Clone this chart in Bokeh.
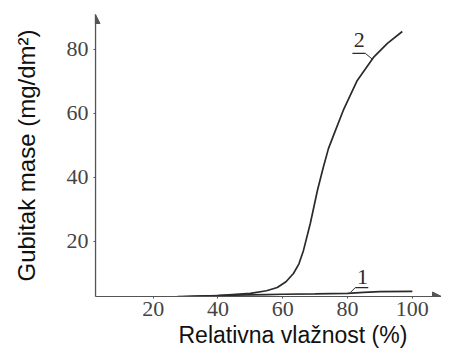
from bokeh.plotting import figure
from bokeh.models import FixedTicker, Range1d, Arrow, NormalHead, Title
from bokeh.embed import file_html
from bokeh.resources import INLINE
from bokeh.core.properties import value

# data
humidity_2 = [27.5, 40, 50, 55, 58.3, 61, 63.3, 65, 66.4, 68.5, 70.7, 72.5, 74.1, 76, 78.7, 83, 88, 92.3, 96.9]
mass_loss_2 = [2.8, 3.1, 3.75, 4.6, 5.6, 7.4, 10, 13, 17.2, 25.6, 35.9, 43.1, 49, 54, 61, 70.3, 77.5, 81.9, 85.6]
humidity_1 = [27.5, 35, 45, 55, 60, 70, 80, 85, 90, 100]
mass_loss_1 = [2.6, 2.9, 3.2, 3.4, 3.5, 3.6, 3.8, 4.1, 4.3, 4.4]
x_ticks = [20, 40, 60, 80, 100]
y_ticks = [20, 40, 60, 80]
curve_labels = ["1", "2"]
label_x = [84.6, 83.6]
label_y = [8.75, 82.8]
underline_x0 = [82.4, 81.5]
underline_x1 = [86.4, 85.5]
underline_y = [5.6, 78.75]
leader_x1 = [80.9, 87.7]
leader_y1 = [4.06, 76.9]
leader_x0 = [82.4, 85.5]
x_title = "Relativna vlažnost (%)"
y_title = "Gubitak mase (mg/dm²)"

x_lo, x_hi = 2.2, 109.0
y_lo, y_hi = 2.8, 90.9

ink = "#2a2a2a"
axis_col = "#555555"

p = figure(width=441, height=348, output_backend="svg", toolbar_location=None,
           x_range=Range1d(x_lo, x_hi), y_range=Range1d(y_lo, y_hi),
           min_border_left=95, min_border_right=0, min_border_top=14, min_border_bottom=0)
p.outline_line_color = None
p.grid.visible = False
p.background_fill_color = "white"

p.xaxis.ticker = FixedTicker(ticks=x_ticks)
p.yaxis.ticker = FixedTicker(ticks=y_ticks)
for ax in (p.xaxis, p.yaxis):
    ax.axis_line_color = axis_col
    ax.axis_line_width = 1.2
    ax.major_tick_line_color = axis_col
    ax.major_tick_out = 2
    ax.major_tick_in = 0
    ax.minor_tick_line_color = None
    ax.major_label_text_font = "Liberation Serif"
    ax.major_label_text_font_size = "22px"
    ax.major_label_text_color = "#444444"
    ax.axis_label_text_font = "Liberation Sans"
    ax.axis_label_text_font_size = "24px"
    ax.axis_label_text_font_style = "normal"
    ax.axis_label_text_color = "#111111"

p.yaxis.axis_label = y_title
p.xaxis.major_label_standoff = 3
p.yaxis.major_label_standoff = 5
p.yaxis.axis_label_standoff = 24

p.add_layout(Title(text=x_title, align="left", offset=83, standoff=2,
                   text_font="Liberation Sans", text_font_size="23px",
                   text_font_style="normal", text_color="#111111"), "below")

p.line(humidity_2, mass_loss_2, line_color=ink, line_width=1.7)
p.line(humidity_1, mass_loss_1, line_color=ink, line_width=1.7)

p.text(x=label_x, y=label_y, text=curve_labels, text_font=value("Liberation Serif"),
       text_font_size="22px", text_color=ink, text_align="center", text_baseline="middle")
p.segment(x0=underline_x0, y0=underline_y, x1=underline_x1, y1=underline_y, line_color=ink, line_width=1.2)
p.segment(x0=leader_x0, y0=underline_y, x1=leader_x1, y1=leader_y1, line_color=ink, line_width=1.0)

# arrow heads on the axes
p.add_layout(Arrow(end=NormalHead(size=9, fill_color=axis_col, line_color=axis_col),
                   x_start=x_lo, y_start=y_lo, x_end=x_lo, y_end=y_hi, line_color=axis_col, line_width=1.2))
p.add_layout(Arrow(end=NormalHead(size=9, fill_color=axis_col, line_color=axis_col),
                   x_start=x_lo, y_start=y_lo, x_end=x_hi, y_end=y_lo, line_color=axis_col, line_width=1.2))

open("out.html", "w").write(file_html(p, INLINE))
